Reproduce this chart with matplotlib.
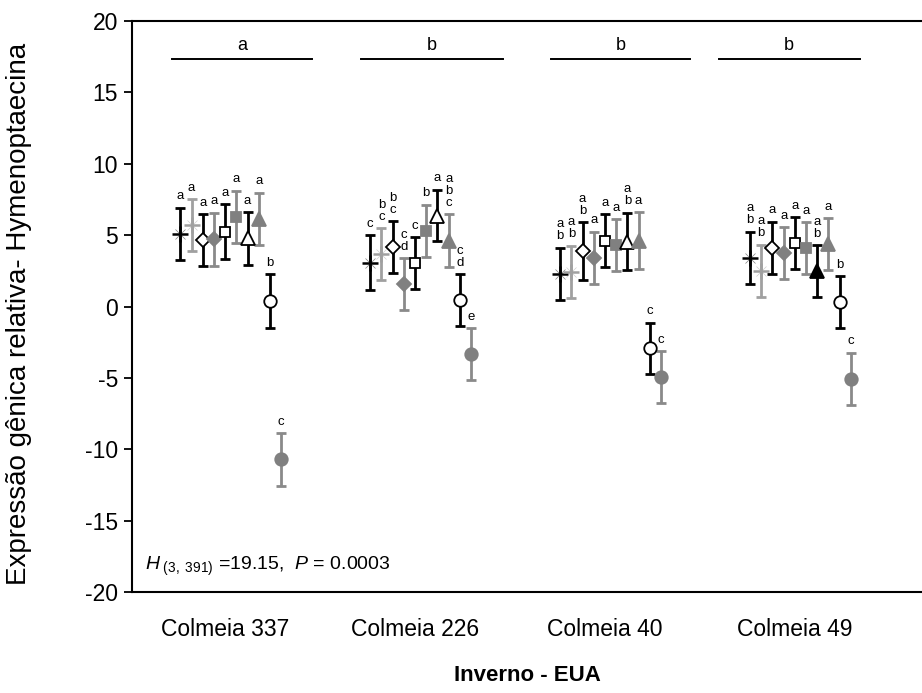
import numpy as np
import matplotlib
matplotlib.use('Agg')
import matplotlib.pyplot as plt

plt.rcParams['font.family'] = ['Liberation Sans', 'DejaVu Sans']
plt.rcParams['axes.unicode_minus'] = False
plt.rcParams['mathtext.fontset'] = 'custom'
plt.rcParams['mathtext.rm'] = 'Liberation Sans'
plt.rcParams['mathtext.it'] = 'Liberation Sans:italic'

# dados (médias, erro, letras) por colmeia
groups = ['Colmeia 337', 'Colmeia 226', 'Colmeia 40', 'Colmeia 49']

mean_337 = [5.10, 5.69, 4.64, 4.71, 5.25, 6.27, 4.77, 6.13, 0.37, -10.71]
err_337 = [1.82, 1.82, 1.83, 1.85, 1.92, 1.82, 1.84, 1.82, 1.90, 1.83]
letters_337 = ['a', 'a', 'a', 'a', 'a', 'a', 'a', 'a', 'b', 'c']

mean_226 = [3.08, 3.65, 4.16, 1.58, 3.05, 5.29, 6.36, 4.61, 0.47, -3.33]
err_226 = [1.91, 1.82, 1.82, 1.81, 1.80, 1.82, 1.80, 1.84, 1.80, 1.80]
letters_226 = ['c', 'bc', 'bc', 'cd', 'c', 'b', 'a', 'abc', 'cd', 'e']

mean_40 = [2.28, 2.45, 3.89, 3.39, 4.61, 4.28, 4.55, 4.60, -2.93, -4.96]
err_40 = [1.82, 1.82, 2.02, 1.84, 1.84, 1.82, 2.02, 2.00, 1.80, 1.82]
letters_40 = ['ab', 'ab', 'ab', 'a', 'a', 'a', 'ab', 'a', 'c', 'c']

mean_49 = [3.41, 2.52, 4.11, 3.72, 4.42, 4.07, 2.47, 4.35, 0.30, -5.08]
err_49 = [1.82, 1.82, 1.82, 1.82, 1.82, 1.82, 1.82, 1.82, 1.83, 1.83]
letters_49 = ['ab', 'ab', 'a', 'a', 'a', 'a', 'ab', 'a', 'b', 'c']

group_letters = ['a', 'b', 'b', 'b']

means = [mean_337, mean_226, mean_40, mean_49]
errs = [err_337, err_226, err_40, err_49]
letters = [letters_337, letters_226, letters_40, letters_49]

# estilo de cada série: (marcador, cor face, cor borda, cor barra)
black = '#000000'
gray = '#808080'
lgray = '#a0a0a0'
styles = [
    ('+', black, black, black),
    ('+', lgray, lgray, lgray),
    ('D', 'white', black, black),
    ('D', gray, gray, '#8a8a8a'),
    ('s', 'white', black, black),
    ('s', gray, gray, '#8a8a8a'),
    ('^', 'white', black, black),
    ('^', gray, gray, '#8a8a8a'),
    ('o', 'white', black, black),
    ('o', gray, gray, '#8a8a8a'),
]
msizes = {'+': 11, 'D': 7.5, 's': 7, '^': 9.5, 'o': 9}

fig = plt.figure(figsize=(9.22, 6.93), dpi=100)
ax = fig.add_axes([0.1432, 0.1457, 0.8568, 0.824])

step = 0.059
shift = 0.03
for g in range(len(groups)):
    xc = g + 1
    for i in range(10):
        x = xc + shift + (i - 4.5) * step
        m = means[g][i]
        e = errs[g][i]
        mk, fc, ec, bc = styles[i]
        if g == 3 and i == 6:
            fc = black
        ax.errorbar(x, m, yerr=e, fmt='none', ecolor=bc, elinewidth=2,
                    capsize=3.8, capthick=2, zorder=2 + i * 0.1)
        if mk == '+':
            ax.plot(x, m, marker='x', ms=7, mew=0.5, color=ec, alpha=0.5,
                    linestyle='none', zorder=3 + i * 0.1)
            ax.plot(x, m, marker='+', ms=msizes[mk], mew=1.8, color=ec,
                    linestyle='none', zorder=3 + i * 0.1)
        else:
            ax.plot(x, m, marker=mk, ms=msizes[mk], mfc=fc, mec=ec, mew=1.3,
                    linestyle='none', zorder=3 + i * 0.1)
        ax.annotate('\n'.join(letters[g][i]), (x, m + e), xytext=(0, 4),
                    textcoords='offset points', ha='center', va='bottom',
                    fontsize=9.5, linespacing=1.0)

# linhas de grupo
bracket_x = [(0.72, 1.46), (1.716, 2.463), (2.716, 3.447), (3.6, 4.342)]
for (x0, x1), lab in zip(bracket_x, group_letters):
    ax.plot([x0, x1], [17.35, 17.35], color='black', lw=1.4)
    ax.text((x0 + x1) / 2, 17.7, lab, ha='center', va='bottom', fontsize=13)

ax.text(0.58, -18.2, r'$H_{\ (3,\ 391)}$ =19.15,  $P$ = 0.0003',
        fontsize=14, va='center', ha='left')

ax.set_xlim(0.51, 4.67)
ax.set_ylim(-20, 20)
ax.set_yticks(np.arange(-20, 21, 5))
ax.set_xticks([1, 2, 3, 4])
ax.set_xticklabels(groups)
ax.tick_params(axis='x', length=0, pad=19, labelsize=16.5)
ax.tick_params(axis='y', direction='out', length=6, width=1.3, pad=4, labelsize=16.5)
for s in ['left', 'bottom', 'top']:
    ax.spines[s].set_linewidth(1.5)
ax.spines['right'].set_visible(False)

ax.set_ylabel('Expressão gênica relativa- Hymenoptaecina', fontsize=20)
ax.yaxis.set_label_coords(-0.127, 0.487)
ax.set_xlabel('Inverno - EUA', fontsize=16, fontweight='bold', labelpad=17)

fig.savefig('out.png', dpi=100)
